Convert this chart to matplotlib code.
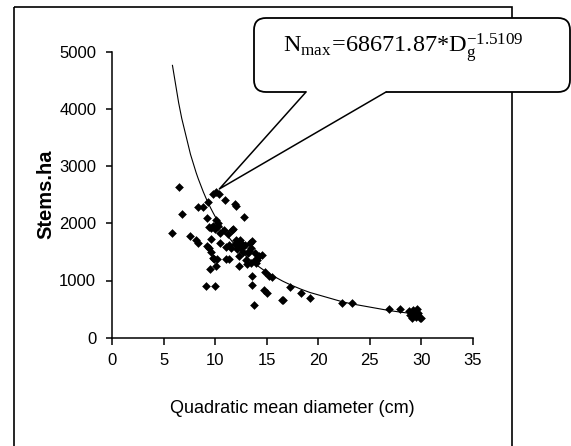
import numpy as np
import matplotlib
matplotlib.use("Agg")
import matplotlib.pyplot as plt
from matplotlib.patches import FancyBboxPatch, Rectangle, Polygon

# observed stands: quadratic mean diameter (cm) and stems per ha
diam = [5.85, 6.45, 6.75, 7.6, 8.15, 8.35, 8.35, 8.85, 9.1, 9.95,
        9.3, 9.2, 9.25, 9.35, 9.5, 9.6, 9.55, 9.8, 9.85, 9.35,
        9.55, 9.8, 9.8, 10.1, 10.4, 10.95, 10.05, 10.2, 10.1, 10.25,
        10.0, 10.3, 10.5, 10.5, 10.9, 11.2, 11.0, 11.3, 11.7, 11.3,
        11.55, 11.9, 12.05, 11.9, 12.0, 12.25, 12.45, 12.3, 12.35, 12.8,
        12.5, 12.6, 12.7, 12.95, 13.1, 13.15, 13.35, 13.45, 13.5, 13.55,
        13.6, 13.55, 13.75, 13.85, 14.0, 14.3, 14.5, 14.1, 13.9, 14.75,
        15.0, 14.85, 15.25, 15.5, 16.5, 16.6, 17.3, 18.35, 19.2, 22.3,
        23.25, 26.85, 27.9, 28.8, 28.95, 29.1, 29.25, 29.35, 29.5, 29.6,
        29.7, 29.85, 30.0, 29.2, 11.6, 11.0, 12.1, 12.9, 12.2, 13.3]
stems = [1830, 2630, 2170, 1780, 1700, 1660, 2290, 2290, 900, 900,
         2380, 2100, 1600, 1560, 1200, 1500, 1720, 1400, 1380, 1930,
         1920, 1950, 2520, 2550, 2520, 2410, 1250, 1370, 2060, 2000,
         1900, 1950, 1660, 1830, 1890, 1820, 1370, 1370, 1900, 1620,
         1560, 2340, 2310, 1640, 1700, 1650, 1700, 1420, 1250, 2110,
         1560, 1640, 1500, 1360, 1280, 1480, 1650, 1560, 1300, 1690,
         1080, 920, 580, 1360, 1300, 1420, 1450, 1350, 1480, 840,
         780, 1140, 1070, 1060, 660, 660, 880, 790, 690, 610,
         610, 500, 500, 470, 400, 350, 480, 420, 360, 500,
         430, 340, 350, 380, 1880, 1590, 1550, 1620, 1600, 1520]

# fitted self-thinning line  Nmax = A * Dg^b
coef_a = 68671.87
coef_b = -1.5109
eq_label = r"$\mathrm{N_{max}\!=\!68671.87{*}D_g^{-1.5109}}$"

xticks = [0, 5, 10, 15, 20, 25, 30, 35]
yticks = [0, 1000, 2000, 3000, 4000, 5000]

plt.rcParams["mathtext.fontset"] = "custom"
plt.rcParams["mathtext.rm"] = "Liberation Serif"
plt.rcParams["mathtext.it"] = "Liberation Serif:italic"

W, H = 571, 446
fig = plt.figure(figsize=(W / 100, H / 100), dpi=100)
fig.patch.set_facecolor("white")

ax = fig.add_axes([112.2 / W, 1 - 337.7 / H, 360.5 / W, 286.0 / H])
ax.set_xlim(0, 35)
ax.set_ylim(0, 5000)
for s in ["top", "right"]:
    ax.spines[s].set_visible(False)
for s in ["left", "bottom"]:
    ax.spines[s].set_linewidth(1.1)

ax.scatter(diam, stems, marker="D", s=16, color="black", linewidths=0.4, zorder=3)

d_sorted = np.sort(np.array(diam))
ax.plot(d_sorted, coef_a * d_sorted ** coef_b, color="black", lw=0.8, zorder=2)

sans = "Liberation Sans"
ax.set_xticks(xticks)
ax.set_yticks(yticks)
ax.set_xticklabels([str(t) for t in xticks], family=sans, fontsize=12)
ax.set_yticklabels([str(t) for t in yticks], family=sans, fontsize=12)
ax.tick_params(axis="y", length=4.5, width=1.1, pad=7)
ax.tick_params(axis="x", length=5, width=1.1, pad=6)

ax.set_xlabel("Quadratic mean diameter (cm)", family=sans, fontsize=13)
ax.xaxis.set_label_coords(0.5, -0.246)
ax.xaxis.label.set_va("center")
ax.set_ylabel("Stems.ha", family=sans, fontsize=14.5, fontweight="bold")
ax.yaxis.set_label_coords(-0.185, 0.5)
ax.yaxis.label.set_va("center")

# overlay in pixel units for the frame and the callout
ov = fig.add_axes([0, 0, 1, 1], zorder=5)
ov.set_xlim(0, W)
ov.set_ylim(H, 0)
ov.axis("off")
ov.patch.set_visible(False)

ov.add_patch(Rectangle((14, 7), 512 - 14, H + 20, fill=False, lw=1.2, ec="black"))

box = FancyBboxPatch((254, 18), 570 - 254, 92 - 18,
                     boxstyle="round,pad=0,rounding_size=12",
                     fc="white", ec="black", lw=1.3)
ov.add_patch(box)

fig.canvas.draw()
tx, ty = ax.transData.transform((10.4, 2600))
tip = (tx, H - ty)
b1, b2 = (306, 92), (386, 92)
ov.add_patch(Polygon([(b1[0] + 1, 89), b1, tip, b2, (b2[0] - 1, 89)],
                     closed=True, fc="white", ec="none"))
ov.plot([b1[0], tip[0], b2[0]], [b1[1], tip[1], b2[1]], color="black", lw=1.1)

ov.text(283, 53, eq_label, fontsize=17.5, va="baseline", ha="left", color="black")

fig.savefig("out.png", dpi=100)
